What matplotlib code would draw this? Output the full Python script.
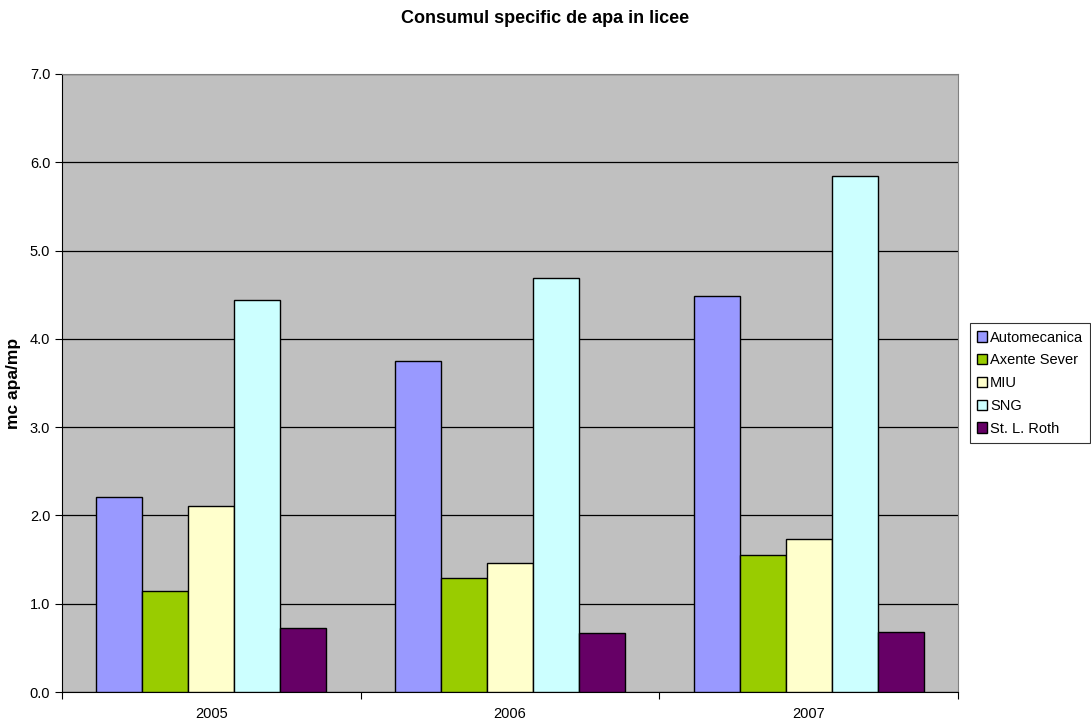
import numpy as np
import matplotlib
matplotlib.use("Agg")
from matplotlib import pyplot as plt

plt.rcParams['font.family'] = ['Liberation Sans', 'DejaVu Sans']

years = ['2005', '2006', '2007']
series = ['Automecanica', 'Axente Sever', 'MIU', 'SNG', 'St. L. Roth']
automecanica = [2.21, 3.75, 4.49]
axente_sever = [1.14, 1.29, 1.55]
miu = [2.11, 1.46, 1.73]
sng = [4.44, 4.69, 5.85]
st_l_roth = [0.72, 0.67, 0.68]
colors = ['#9999ff', '#99cc00', '#ffffcc', '#ccffff', '#660066']


def main():
    values = [automecanica, axente_sever, miu, sng, st_l_roth]

    fig = plt.figure(figsize=(10.91, 7.26), dpi=100)
    ax = fig.add_axes([0.0568, 0.0468, 0.8212, 0.8513])
    ax.set_facecolor('#c0c0c0')

    x = np.arange(len(years))
    width = 0.154
    for i, (name, vals) in enumerate(zip(series, values)):
        offs = (i - 2) * width
        ax.bar(x + offs, vals, width, color=colors[i], edgecolor='black',
               linewidth=1.0, label=name, zorder=3)

    ax.set_xlim(-0.5, len(years) - 0.5)
    ax.set_ylim(0, 7)
    ax.set_yticks(np.arange(0, 7.5, 1.0))
    ax.set_yticklabels(['%.1f' % v for v in np.arange(0, 7.5, 1.0)])
    ax.yaxis.grid(True, color='black', linewidth=0.9, zorder=0)
    ax.set_axisbelow(True)

    ax.set_xticks(x)
    ax.set_xticklabels(years)
    ax.set_xticks(np.arange(-0.5, len(years), 1.0), minor=True)
    ax.tick_params(axis='x', which='major', length=0, labelsize=10.5,
                   pad=10.5)
    ax.tick_params(axis='x', which='minor', length=5, direction='out',
                   width=0.8)
    ax.tick_params(axis='y', length=5, direction='out', width=0.8,
                   labelsize=10.5, pad=3.5)

    for side in ['top', 'right']:
        ax.spines[side].set_color('#808080')
    for side in ['left', 'bottom']:
        ax.spines[side].set_color('black')

    ax.set_ylabel('mc apa/mp', fontsize=12.5, fontweight='bold', labelpad=6)
    fig.text(0.5, 0.968, 'Consumul specific de apa in licee',
             ha='center', va='baseline', fontsize=13, fontweight='bold')

    leg = ax.legend(loc='center left', bbox_to_anchor=(1.013, 0.5),
                    fontsize=10.5, frameon=True, fancybox=False,
                    edgecolor='black', handlelength=0.7, handleheight=0.7,
                    handletextpad=0.2, borderpad=0.5, labelspacing=0.6,
                    borderaxespad=0)
    leg.get_frame().set_linewidth(0.8)

    fig.savefig('out.png', dpi=100)


if __name__ == '__main__':
    main()
